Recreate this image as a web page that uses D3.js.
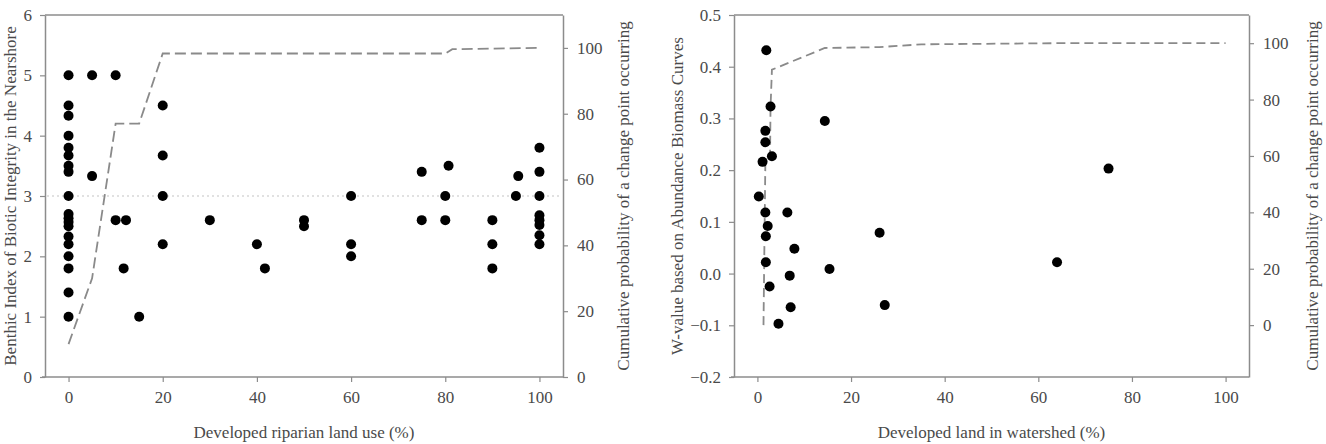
<!DOCTYPE html>
<html>
<head>
<meta charset="utf-8">
<script src="https://cdn.jsdelivr.net/npm/d3@7"></script>
<style>
  body { margin: 0; background: #fff; }
  text { font-family: "Liberation Serif", "DejaVu Serif", serif; fill: #4a4a4a; }
</style>
</head>
<body>
<div id="chart"></div>
<script>
// panel A: riparian land use vs benthic index
var riparianX = [0,0,0,0,0,0,0,0,0,0,0,0,0,0,0,0,0,0,0,
                 5,5,10,10,12.2,11.7,15,20,20,20,20,30,40,41.7,50,50,
                 60,60,60,75,75,80,80,80.7,90,90,90,95,95.5,
                 100,100,100,100,100,100,100,100];
var benthicY = [5,4.5,4.33,4,3.8,3.67,3.5,3.4,3,2.7,2.63,2.57,2.5,2.33,2.2,2,1.8,1.4,1,
                5,3.33,5,2.6,2.6,1.8,1,4.5,3.67,3,2.2,2.6,2.2,1.8,2.6,2.5,
                3,2.2,2,3.4,2.6,3,2.6,3.5,2.6,2.2,1.8,3,3.33,
                3.8,3.4,3,2.68,2.6,2.52,2.35,2.2];
var cumRipX = [0,5,10,15,20,80,81.5,100];
var cumRipP = [10,30,77,77,98.3,98.3,99.6,100];
var benthicThreshold = 3;

// panel B: watershed development vs W-value
var watershedX = [1.9,2.8,14.4,1.7,1.7,3.1,1.1,0.3,1.7,6.4,2.2,1.8,26.1,7.9,1.8,15.4,6.9,2.6,7.1,27.2,4.5,64,75];
var wValueY = [0.432,0.323,0.295,0.276,0.254,0.227,0.216,0.149,0.118,0.118,0.092,0.072,0.079,0.048,0.022,0.009,-0.004,-0.025,-0.065,-0.061,-0.097,0.022,0.203];
var cumWsX = [1.3,1.7,2.7,2.8,3.1,14.4,26,35,64,100];
var cumWsP = [0,58,60,77,90.6,98.3,98.6,99.6,100,100];

var ticksA = [0,1,2,3,4,5,6];
var ticksB = [-0.2,-0.1,0,0.1,0.2,0.3,0.4,0.5];
var ticksX = [0,20,40,60,80,100];
var ticksP = [0,20,40,60,80,100];

var svg = d3.select("#chart").append("svg")
  .attr("width", 1326).attr("height", 444);

var axisColor = "#8c8c8c";
var serif = "Liberation Serif, DejaVu Serif, serif";

function drawPanel(opt) {
  var g = svg.append("g");
  var x = d3.scaleLinear().domain([-5, 105]).range([opt.left, opt.right]);
  var y = d3.scaleLinear().domain(opt.yDomain).range([opt.bottom, opt.top]);
  var y2 = d3.scaleLinear().domain(opt.pDomain).range([opt.bottom, opt.top]);

  // top frame line
  g.append("line")
    .attr("x1", opt.left).attr("x2", opt.right)
    .attr("y1", opt.top).attr("y2", opt.top)
    .attr("stroke", axisColor).attr("stroke-width", 1.5);

  var ax = g.append("g").attr("transform", "translate(0," + opt.bottom + ")")
    .call(d3.axisBottom(x).tickValues(ticksX).tickSizeInner(5).tickSizeOuter(0).tickPadding(9));
  var ay = g.append("g").attr("transform", "translate(" + opt.left + ",0)")
    .call(d3.axisLeft(y).tickValues(opt.yTicks).tickFormat(opt.yFormat).tickSizeInner(5).tickSizeOuter(0).tickPadding(8));
  var ay2 = g.append("g").attr("transform", "translate(" + opt.right + ",0)")
    .call(d3.axisRight(y2).tickValues(ticksP).tickSizeInner(5).tickSizeOuter(0).tickPadding(9));

  [ax, ay, ay2].forEach(function(a) {
    a.attr("font-family", serif).attr("font-size", 17);
    a.select(".domain").attr("stroke", axisColor).attr("stroke-width", 1.5);
    a.selectAll(".tick line").attr("stroke", axisColor).attr("stroke-width", 1.2);
    a.selectAll("text").attr("fill", "#4a4a4a");
  });
  ax.select(".domain").attr("d", "M" + (opt.left - 3) + ",0H" + opt.right);

  if (opt.threshold != null) {
    g.append("line")
      .attr("x1", opt.left + 2).attr("x2", opt.right - 4)
      .attr("y1", y(opt.threshold)).attr("y2", y(opt.threshold))
      .attr("stroke", "#c4c4c4").attr("stroke-width", 1.2)
      .attr("stroke-dasharray", "2,3");
  }

  var line = d3.line().x(function(d) { return x(d[0]); }).y(function(d) { return y2(d[1]); });
  g.append("path")
    .datum(d3.zip(opt.cumX, opt.cumP))
    .attr("d", line)
    .attr("fill", "none")
    .attr("stroke", "#8a8a8a")
    .attr("stroke-width", 1.8)
    .attr("stroke-dasharray", opt.dash);

  g.append("g").selectAll("circle")
    .data(d3.zip(opt.xs, opt.ys))
    .enter().append("circle")
    .attr("cx", function(d) { return x(d[0]); })
    .attr("cy", function(d) { return y(d[1]); })
    .attr("r", 5)
    .attr("fill", "#000");

  g.append("text")
    .attr("x", (opt.left + opt.right) / 2).attr("y", 438)
    .attr("text-anchor", "middle").attr("font-size", 17)
    .text(opt.xTitle);

  g.append("text")
    .attr("transform", "translate(" + opt.yTitleX + "," + ((opt.top + opt.bottom) / 2) + ") rotate(-90)")
    .attr("text-anchor", "middle").attr("font-size", 17)
    .text(opt.yTitle);

  g.append("text")
    .attr("transform", "translate(" + opt.pTitleX + "," + ((opt.top + opt.bottom) / 2) + ") rotate(-90)")
    .attr("text-anchor", "middle").attr("font-size", 17)
    .text("Cumulative probability of a change point occurring");
}

drawPanel({
  left: 45, right: 563, top: 15, bottom: 377,
  yDomain: [0, 6], yTicks: ticksA, yFormat: d3.format("d"),
  pDomain: [0, 110],
  xs: riparianX, ys: benthicY,
  cumX: cumRipX, cumP: cumRipP,
  dash: "11,5",
  threshold: benthicThreshold,
  xTitle: "Developed riparian land use (%)",
  yTitle: "Benthic Index of Biotic Integrity in the Nearshore",
  yTitleX: 16, pTitleX: 629
});

drawPanel({
  left: 734, right: 1249, top: 15, bottom: 377,
  yDomain: [-0.2, 0.5], yTicks: ticksB, yFormat: d3.format(".1f"),
  pDomain: [-18.4, 110],
  xs: watershedX, ys: wValueY,
  cumX: cumWsX, cumP: cumWsP,
  dash: "9,5",
  threshold: null,
  xTitle: "Developed land in watershed (%)",
  yTitle: "W-value based on Abundance Biomass Curves",
  yTitleX: 683, pTitleX: 1318
});
</script>
</body>
</html>
